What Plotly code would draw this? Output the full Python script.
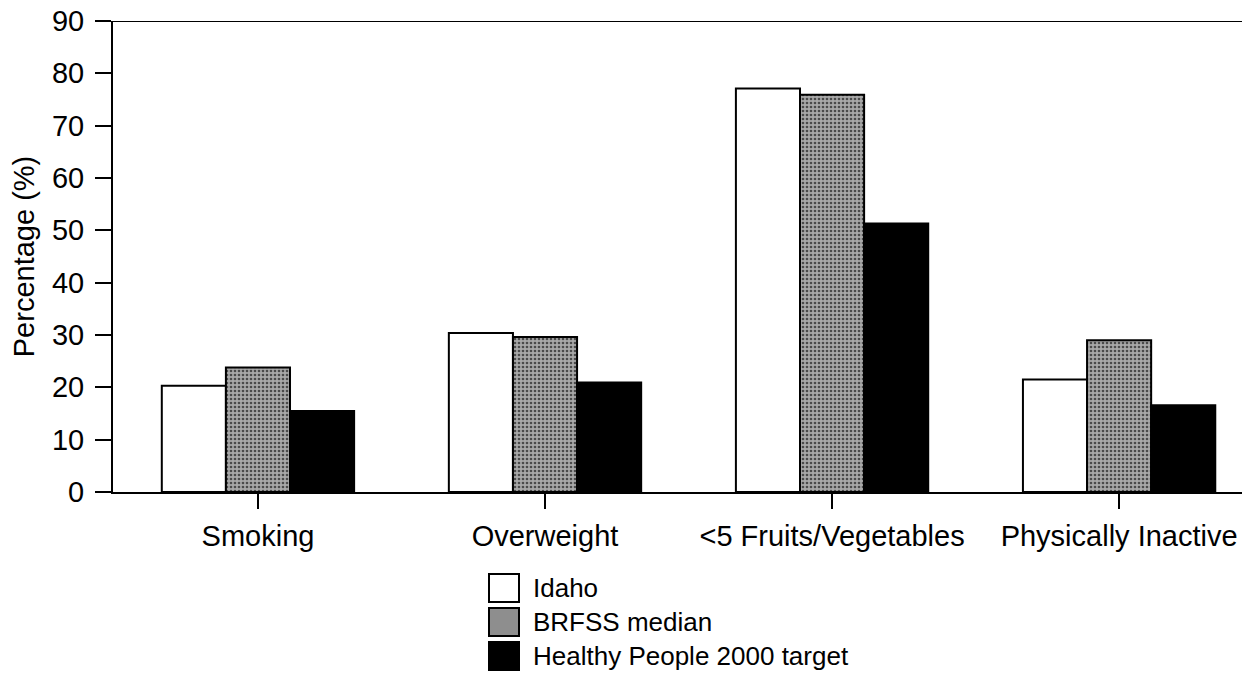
import plotly.graph_objects as go

categories = ["Smoking", "Overweight", "<5 Fruits/Vegetables", "Physically Inactive"]
idaho = [20.3, 30.4, 77.1, 21.5]
brfss = [23.8, 29.6, 75.9, 29.0]
hp2000 = [15.5, 20.9, 51.3, 16.6]
series_names = ["Idaho", "BRFSS median", "Healthy People 2000 target"]
y_ticks = [0, 10, 20, 30, 40, 50, 60, 70, 80, 90]

FONT = "Liberation Sans, Arial, Helvetica, sans-serif"
fills = ["#ffffff", "#8e8e8e", "#000000"]

# the page body adds an 8px offset; compensate so the plot lands on the reference pixels
OFF = 8
W, H = 1250 - OFF, 676 - OFF
PL, PT, PB_SCREEN, PR_SCREEN = 113, 21, 492, 1250

fig = go.Figure()
for name, vals, col in zip(series_names, [idaho, brfss, hp2000], fills):
    marker = dict(color=col, line=dict(color="#000000", width=2))
    if name == "BRFSS median":
        marker["pattern"] = dict(shape=".", fgcolor="#4a4a4a", bgcolor="#a8a8a8",
                                 size=4, solidity=0.35)
    fig.add_trace(go.Bar(
        x=list(range(len(categories))), y=vals, name=name,
        marker=marker, showlegend=False,
    ))

fig.update_layout(
    template="none",
    width=W, height=H,
    margin=dict(l=PL - OFF, r=0, t=PT - OFF, b=H - (PB_SCREEN - OFF), pad=0),
    paper_bgcolor="white", plot_bgcolor="white",
    barmode="group", bargap=0.33, bargroupgap=0,
    font=dict(family=FONT, size=29, color="black"),
    xaxis=dict(
        automargin=False,
        range=[-0.505, 3.456], tickmode="array",
        tickvals=list(range(len(categories))), ticktext=categories,
        ticks="outside", ticklen=15, tickwidth=2, tickcolor="black",
        showline=True, linecolor="black", linewidth=2,
        showgrid=False, zeroline=False, ticklabelstandoff=2,
        ticklabeloverflow="allow",
        tickfont=dict(family=FONT, size=29, color="black"),
    ),
    yaxis=dict(
        automargin=False,
        range=[0, 90], tickmode="array", tickvals=y_ticks,
        ticktext=[str(v) for v in y_ticks],
        ticks="outside", ticklen=16, tickwidth=2, tickcolor="black",
        showline=True, linecolor="black", linewidth=2,
        showgrid=False, zeroline=False, ticklabelstandoff=5,
        ticklabeloverflow="allow",
        tickfont=dict(family=FONT, size=29, color="black"),
        title=dict(text="Percentage (%)", standoff=15,
                   font=dict(family=FONT, size=29, color="black")),
    ),
)

# top frame line
fig.add_shape(type="line", xref="paper", yref="y", x0=0, x1=1, y0=90, y1=90,
              line=dict(color="black", width=2))

# custom legend (boxes + labels), positioned in paper coordinates
def px_to_paper_x(px):
    return (px - PL) / (PR_SCREEN - PL)

def px_to_paper_y(py):
    return (PB_SCREEN - py) / (PB_SCREEN - PT)

row_centers = [588, 622, 656]
for name, col, cy in zip(series_names, fills, row_centers):
    fig.add_shape(type="rect", xref="paper", yref="paper",
                  x0=px_to_paper_x(489), x1=px_to_paper_x(519),
                  y0=px_to_paper_y(cy + 14), y1=px_to_paper_y(cy - 14),
                  fillcolor=col, line=dict(color="black", width=2))
    fig.add_annotation(xref="paper", yref="paper",
                       x=px_to_paper_x(531), y=px_to_paper_y(cy),
                       xanchor="left", yanchor="middle", showarrow=False,
                       text=name, font=dict(family=FONT, size=26, color="black"))

fig.write_html("out.html")
